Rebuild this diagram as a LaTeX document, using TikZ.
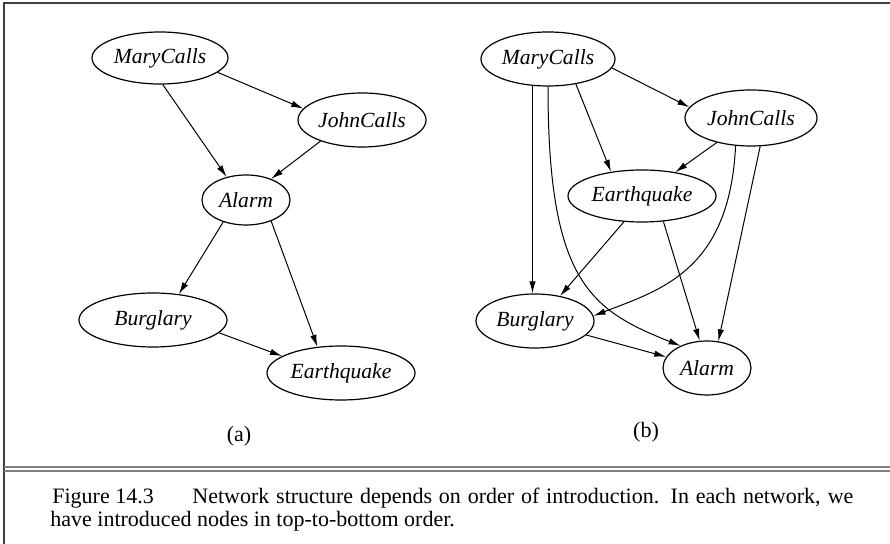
\documentclass[tikz,border=0pt]{standalone}
\usepackage{fontspec}
\setmainfont{Liberation Serif}
\usetikzlibrary{shapes.geometric,arrows.meta}

\begin{document}
\begin{tikzpicture}[x=0.5pt,y=-0.5pt,
  var/.style={draw,ellipse,line width=0.6pt,inner sep=0pt,font=\fontsize{10.8}{12}\selectfont\itshape},
  edge/.style={line width=0.5pt,-{Latex[length=6pt,width=3.2pt]}},
  captext/.style={inner sep=0pt,anchor=base west,font=\fontsize{11}{13}\selectfont}]
\useasboundingbox (0,0) rectangle (890,544);
% frame and rule
\draw[line width=1pt,black!75] (4,544) -- (4,3) -- (890,3);
\draw[line width=0.6pt,black!50] (4,467) -- (890,467) (4,471) -- (890,471);

% network (a)
\node[var,minimum width=68pt,minimum height=26pt] (mc-a) at (160,58) {MaryCalls};
\node[var,minimum width=64pt,minimum height=27pt] (jc-a) at (362,120) {JohnCalls};
\node[var,minimum width=44pt,minimum height=25pt] (al-a) at (246,200) {Alarm};
\node[var,minimum width=74pt,minimum height=27pt] (bu-a) at (153,320) {Burglary};
\node[var,minimum width=74pt,minimum height=27pt] (eq-a) at (341,373) {Earthquake};
\draw[edge] (mc-a.346) -- (jc-a.169);
\draw[edge] (mc-a.276) -- (al-a.130);
\draw[edge] (jc-a.207) -- (al-a.40);
\draw[edge] (al-a.224) -- (bu-a.45);
\draw[edge] (al-a.320) -- (eq-a.132);
\draw[edge] (bu-a.349) -- (eq-a.164);
\node[captext,anchor=base] (lab-a) at (239,442) {(a)};

% network (b)
\node[var,minimum width=67pt,minimum height=27pt] (mc-b) at (548,59) {MaryCalls};
\node[var,minimum width=66pt,minimum height=28pt] (jc-b) at (751,118) {JohnCalls};
\node[var,minimum width=74pt,minimum height=26pt] (eq-b) at (642,196) {Earthquake};
\node[var,minimum width=59pt,minimum height=27pt] (bu-b) at (535,321) {Burglary};
\node[var,minimum width=44pt,minimum height=27pt] (al-b) at (707,368) {Alarm};
\draw[edge] (mc-b.352) -- (jc-b.170);
\draw[edge] (mc-b.240) -- (mc-b.240 |- bu-b.north);
\draw[edge] (mc-b.south) .. controls +(0,194) and +(-91,-36) .. (al-b.140);
\draw[edge] (mc-b.318) -- (eq-b.142);
\draw[edge] (jc-b) -- (eq-b);
\draw[edge] (jc-b.241) .. controls +(-6,125) and +(67,-26) .. (bu-b.5);
\draw[edge] (jc-b.288) -- (al-b.67);
\draw[edge] (eq-b.235) -- (bu-b.45);
\draw[edge] (eq-b.310) -- (al-b.105);
\draw[edge] (bu-b) -- (al-b);
\node[captext,anchor=base] (lab-b) at (646,438) {(b)};

% caption
\node[captext] (fig) at (52,504) {Figure 14.3};
\node[captext] (cap1) at (192,504) {\makebox[330.5pt][s]{Network structure depends on order of introduction. In each network, we}};
\node[captext] (cap2) at (50,527) {have introduced nodes in top-to-bottom order.};
\end{tikzpicture}
\end{document}
